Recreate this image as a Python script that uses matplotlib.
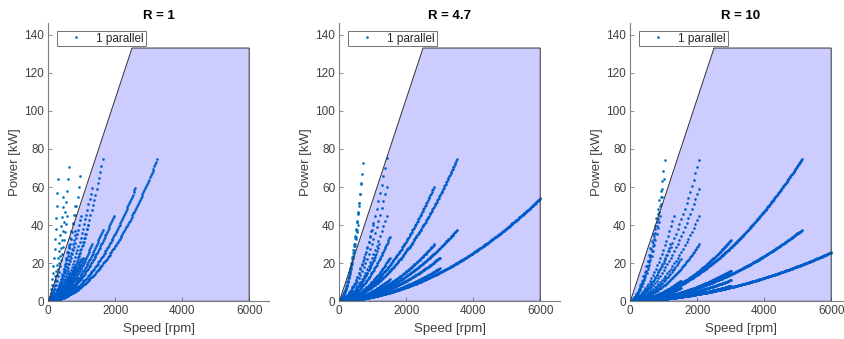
import numpy as np
import matplotlib
matplotlib.use("Agg")
import matplotlib.pyplot as plt
from matplotlib.patches import Polygon

plt.rcParams['font.family'] = ['Liberation Sans', 'DejaVu Sans']

# ---------------- data ----------------
titles = ["R = 1", "R = 4.7", "R = 10"]
legend_label = "1 parallel"

# operating envelope (speed rpm, power kW)
env_speed = [0, 2500, 6000, 6000]
env_power = [0, 133, 133, 0]

# curve end points (speed [rpm], power [kW]) and points per curve
r1_end_rpm = [3250, 2600, 1950, 1625, 1300, 975, 812, 650,
              1625, 1300, 975, 812, 650, 1050, 1200, 956, 627, 450, 290, 800, 550]
r1_end_kw  = [74.5, 59.5, 45.0, 37.5, 30.0, 22.4, 18.6, 15.0,
              74.5, 59.5, 45.0, 37.0, 30.0, 23.0, 40.0, 65.7, 70.6, 55.0, 64.0, 50.0, 45.0]
r1_npts    = [120, 100, 80, 65, 55, 45, 40, 35,
              45, 40, 35, 30, 28, 40, 35, 24, 22, 20, 18, 22, 20]

r2_end_rpm = [6000, 3510, 3510, 2820, 2840, 3000, 3000, 1508, 1508, 1508, 1410, 1410, 1410, 1200,
              1000, 1100, 695, 650, 600, 550]
r2_end_kw  = [54.0, 74.5, 37.4, 60.0, 30.0, 22.9, 17.3, 33.9, 22.9, 11.5, 75.0, 60.0, 45.0, 30.0,
              40.0, 25.0, 72.4, 62.0, 50.0, 40.0]
r2_npts    = [320, 170, 170, 130, 130, 150, 150, 70, 70, 70, 30, 30, 30, 30,
              25, 30, 25, 22, 22, 20]

r3_end_rpm = [6000, 5124, 5124, 3009, 3009, 3009, 3009, 2046, 2046, 2046, 2046, 1511, 1511,
              1034, 1000, 950, 900, 1300, 1200, 1500]
r3_end_kw  = [25.7, 74.6, 37.4, 32.2, 16.1, 11.2, 8.2, 74.1, 59.2, 44.7, 29.9, 10.8, 7.0,
              74.1, 64.0, 55.0, 45.0, 45.0, 30.0, 22.0]
r3_npts    = [320, 270, 270, 150, 150, 150, 150, 40, 40, 40, 70, 70, 70,
              25, 25, 25, 25, 30, 30, 40]

# share of linear term in the curve shape, per panel
linear_share = [0.05, 0.12, 0.15]

panels = [
    (r1_end_rpm, r1_end_kw, r1_npts),
    (r2_end_rpm, r2_end_kw, r2_npts),
    (r3_end_rpm, r3_end_kw, r3_npts),
]

xticks = [0, 2000, 4000, 6000]
yticks = [0, 20, 40, 60, 80, 100, 120, 140]

# ---------------- figure ----------------
W, H = 844, 339
fig = plt.figure(figsize=(W / 100, H / 100), dpi=100)

ax_left_px = [48.3, 339.3, 630.3]
ax_w_px = 221.0
ax_bottom_px = 301.3
ax_top_px = 22.7

pt_color = '#0072BD'
axis_col = '#262626'

for i, (erpm, ekw, npts) in enumerate(panels):
    ax = fig.add_axes([ax_left_px[i] / W, (H - ax_bottom_px) / H,
                       ax_w_px / W, (ax_bottom_px - ax_top_px) / H])
    a = linear_share[i]
    xs, ys = [], []
    for e_r, e_k, n in zip(erpm, ekw, npts):
        sp = np.linspace(0, e_r, n)
        t = sp / e_r
        pw = e_k * (a * t + (1 - a) * t ** 2)
        xs.append(sp)
        ys.append(pw)
    xs = np.concatenate(xs)
    ys = np.concatenate(ys)
    ax.plot(xs, ys, linestyle='none', marker='o', markersize=1.9,
            markeredgewidth=0, color=pt_color, label=legend_label, zorder=2)

    poly = Polygon(np.column_stack([env_speed, env_power]), closed=True,
                   facecolor=(0, 0, 1, 0.2), edgecolor='#333333',
                   linewidth=0.7, zorder=3)
    ax.add_patch(poly)

    ax.set_xlim(0, 6600)
    ax.set_ylim(0, 146.3)
    ax.set_xticks(xticks)
    ax.set_yticks(yticks)
    for s in ['top', 'right']:
        ax.spines[s].set_visible(False)
    for s in ['left', 'bottom']:
        ax.spines[s].set_color('#7f7f7f')
        ax.spines[s].set_linewidth(0.8)
    ax.tick_params(direction='in', length=3, width=0.6, colors='#7f7f7f',
                   labelcolor='#404040', labelsize=8.5, pad=3)
    ax.set_xlabel('Speed [rpm]', fontsize=9.5, color='#404040', labelpad=4)
    ax.set_ylabel('Power [kW]', fontsize=9.5, color='#404040', labelpad=2.5)
    ax.set_title(titles[i], fontsize=9.5, fontweight='bold', color='black', pad=2.5)

    leg = ax.legend(loc='upper left', bbox_to_anchor=(0.041, 0.971), frameon=True,
                    fancybox=False, fontsize=8.5, handlelength=2.9, handletextpad=0.25,
                    borderpad=0.15, markerscale=1.0, borderaxespad=0.0)
    leg.get_frame().set_edgecolor('#333333')
    leg.get_frame().set_linewidth(0.6)
    for t in leg.get_texts():
        t.set_color(axis_col)
    leg.set_zorder(5)

fig.savefig('out.png', dpi=100)
